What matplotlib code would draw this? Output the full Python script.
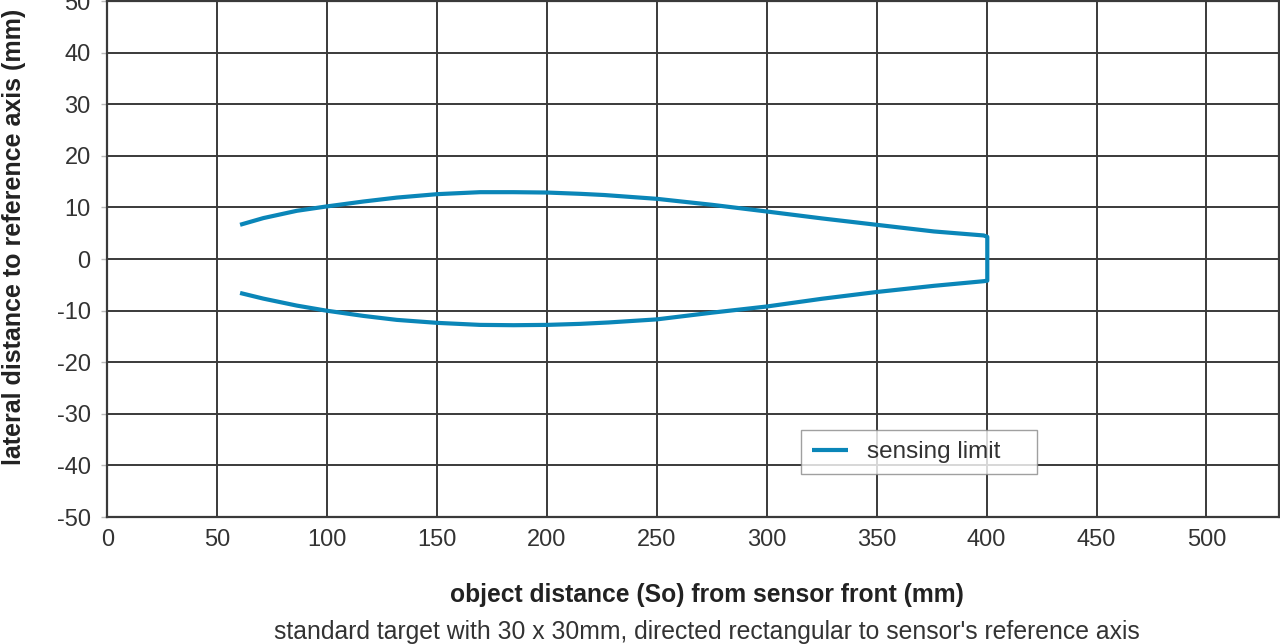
import matplotlib
matplotlib.use('Agg')
import matplotlib.pyplot as plt

# Values (mm)
upperX = [60.4, 71, 86.2, 99.5, 116.5, 131.7, 150.2, 169.6, 184.8, 200, 215.2, 226,
          250, 275.1, 300.1, 325.2, 349.9, 376, 398.7, 400.3]
upperY = [6.63, 7.93, 9.34, 10.17, 11.14, 11.9, 12.57, 12.95, 12.95, 12.88, 12.63, 12.4,
          11.66, 10.5, 9.2, 7.86, 6.63, 5.34, 4.56, 4.3]
lowerX = [400.3, 398.7, 376, 349.9, 325.2, 300.1, 275.1, 250, 228, 215.2, 200, 184.8,
          169.6, 150.2, 131.7, 116.5, 99.5, 86.2, 71, 60.4]
lowerY = [-4.2, -4.3, -5.2, -6.4, -7.7, -9.2, -10.4, -11.7, -12.3, -12.57, -12.77, -12.83,
          -12.77, -12.38, -11.8, -11.03, -10.0, -9.03, -7.68, -6.58]
xTicks = [0, 50, 100, 150, 200, 250, 300, 350, 400, 450, 500]
yTicks = [-50, -40, -30, -20, -10, 0, 10, 20, 30, 40, 50]

LINE_COLOR = '#0a86b8'
GRID_COLOR = '#3a3a3a'
TEXT_COLOR = '#333333'

plt.rcParams['font.family'] = ['Liberation Sans', 'DejaVu Sans']
plt.rcParams['axes.unicode_minus'] = False

fig = plt.figure(figsize=(12.8, 6.44), dpi=100)
ax = fig.add_axes([107.3 / 1280, 1 - 517 / 644, (1279 - 107.3) / 1280, (517 - 1) / 644])

# upper edge, short vertical end at 400 mm, lower edge back to the start
curveX = upperX + lowerX
curveY = upperY + lowerY
ax.plot(curveX, curveY, color=LINE_COLOR, linewidth=3.0, solid_joinstyle='round',
        solid_capstyle='butt', label='sensing limit', zorder=3)

ax.set_xlim(0, 533)
ax.set_ylim(-50, 50)
ax.set_xticks(xTicks)
ax.set_yticks(yTicks)
ax.grid(True, color=GRID_COLOR, linewidth=1.4)
for spine in ax.spines.values():
    spine.set_color(GRID_COLOR)
    spine.set_linewidth(1.6)

ax.tick_params(axis='x', length=0, pad=9, labelsize=17, labelcolor=TEXT_COLOR)
ax.tick_params(axis='y', length=4, width=1, color='#bbbbbb', pad=8, labelsize=17, labelcolor=TEXT_COLOR)

# fixed-width box, entry left-aligned inside it
leg = ax.legend(loc='lower left', bbox_to_anchor=(0.592, 0.0833, 0.2014, 0.08), mode='expand',
                borderaxespad=0, fontsize=17.5, frameon=True, fancybox=False,
                handlelength=1.5, borderpad=0.45, handletextpad=0.75)
leg.get_frame().set_edgecolor('#888888')
leg.get_frame().set_linewidth(1.0)
for t in leg.get_texts():
    t.set_color(TEXT_COLOR)

fig.text(14 / 1280, 1 - 236.5 / 644, 'lateral distance to reference axis (mm)', rotation=90,
         ha='center', va='center', fontsize=18, fontweight='bold', color='#222222')
fig.text(707 / 1280, 1 - 595 / 644, 'object distance (So) from sensor front (mm)',
         ha='center', va='center', fontsize=17.7, fontweight='bold', color='#222222')
fig.text(706.5 / 1280, 1 - 632 / 644,
         "standard target with 30 x 30mm, directed rectangular to sensor's reference axis",
         ha='center', va='center', fontsize=17.8, color=TEXT_COLOR)

fig.savefig('out.png', dpi=100)
